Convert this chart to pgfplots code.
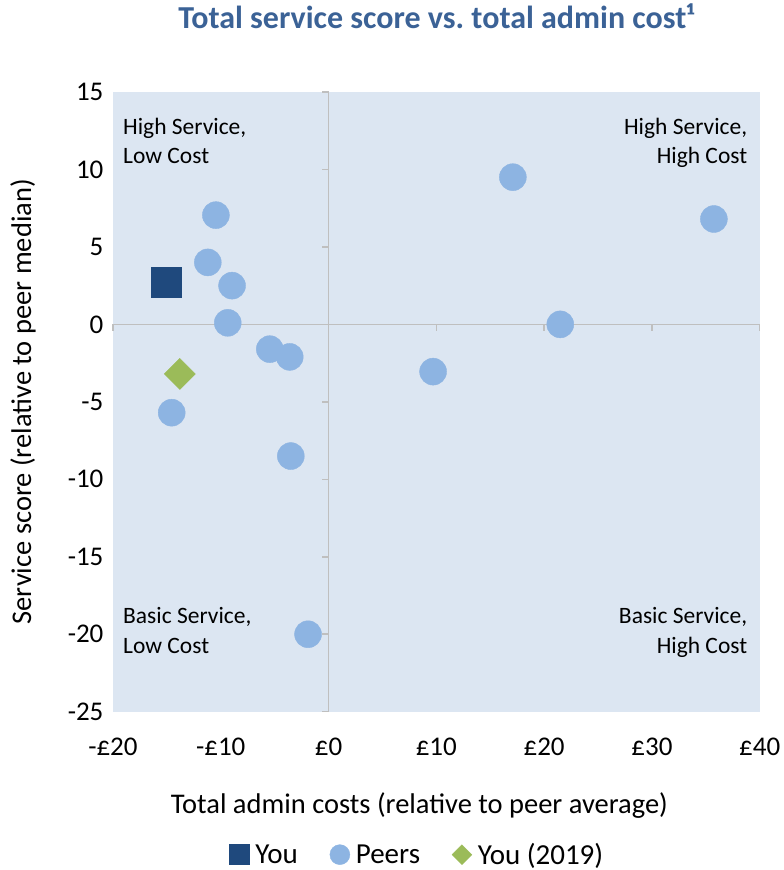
\documentclass[border=0pt]{standalone}
\usepackage{fontspec}
\setmainfont{Carlito}
\usepackage{pgfplots}
\pgfplotsset{compat=1.18}
\definecolor{bgblue}{RGB}{220,230,242}
\definecolor{you}{RGB}{31,73,125}
\definecolor{peer}{RGB}{141,180,226}
\definecolor{old}{RGB}{155,187,89}
\definecolor{titleblue}{RGB}{59,98,150}
\definecolor{axgray}{RGB}{191,191,191}
\begin{document}
\begin{tikzpicture}
\begin{axis}[
  scale only axis, width=647pt, height=620pt,
  xmin=-20, xmax=40, ymin=-25, ymax=15,
  axis line style={draw=none},
  axis background/.style={fill=bgblue},
  tick style={draw=none},
  clip=false,
  xtick={-20,-10,...,40},
  xticklabels={-£20,-£10,£0,£10,£20,£30,£40},
  ytick={-25,-20,...,15},
  yticklabels={-25,-20,-15,-10,-5,0,5,10,15},
  every tick label/.append style={font=\fontsize{27}{31}\selectfont},
  yticklabel style={xshift=-6pt},
  xticklabel style={anchor=base, yshift=-44pt},
  xlabel={Total admin costs (relative to peer average)},
  ylabel={Service score (relative to peer median)},
  label style={font=\fontsize{28.5}{33}\selectfont},
  xlabel style={at={(axis description cs:0.5,0)}, anchor=base, yshift=-102pt, xshift=-17pt},
  ylabel style={at={(axis description cs:0,0.5)}, anchor=center, xshift=0pt, yshift=90pt},
  title={Total service score vs.\ total admin cost¹},
  title style={at={(axis description cs:0.5,1)}, anchor=center, yshift=70pt,
    font=\bfseries\fontsize{32}{38}\selectfont, text=titleblue},
  legend style={at={(axis description cs:0.5,0)}, anchor=center, yshift=-143pt, xshift=-19pt,
    draw=none, fill=none, font=\fontsize{29}{34}\selectfont,
    legend columns=3,
    /tikz/every odd column/.append style={column sep=4pt},
    /tikz/every even column/.append style={column sep=30pt}},
]
\draw[axgray, line width=1.5pt] (axis cs:0,-25) -- (axis cs:0,15);
\draw[axgray, line width=1.5pt] (axis cs:-20,0) -- (axis cs:40,0);
\pgfplotsinvokeforeach{-25,-20,-15,-10,-5,0,5,10,15}{
  \draw[axgray, line width=1.5pt] (axis cs:0,#1) -- ([xshift=-7pt]axis cs:0,#1);
}
\pgfplotsinvokeforeach{-20,-10,0,10,20,30,40}{
  \draw[axgray, line width=1.5pt] (axis cs:#1,0) -- ([yshift=-7pt]axis cs:#1,0);
}
\addplot[only marks, mark=square*, mark size=15pt, color=you,
  legend image post style={mark size=10pt}]
  coordinates {(-15.1,2.7)};
\addlegendentry{You}
\addplot[only marks, mark=*, mark size=13.5pt, color=peer,
  legend image post style={mark size=10pt}]
  coordinates {
  (-10.45,7.05) (-11.2,4.0) (-8.95,2.5) (-9.35,0.1) (-5.45,-1.6)
  (-3.6,-2.1) (-14.55,-5.7) (-3.5,-8.5) (-1.9,-20.0) (9.7,-3.05)
  (17.1,9.5) (21.5,0.0) (35.75,6.8)};
\addlegendentry{Peers}
\addplot[only marks, mark=square*, mark size=11pt, mark options={rotate=45}, color=old,
  legend image post style={mark size=7pt}]
  coordinates {(-13.8,-3.2)};
\addlegendentry{You (2019)}
\node[anchor=north west, align=left, inner sep=0pt, font=\fontsize{23.5}{29.5}\selectfont]
  at (rel axis cs:0.0155,0.958) {High Service,\\Low Cost};
\node[anchor=north east, align=right, inner sep=0pt, font=\fontsize{23.5}{29.5}\selectfont]
  at (rel axis cs:0.981,0.958) {High Service,\\High Cost};
\node[anchor=north west, align=left, inner sep=0pt, font=\fontsize{23.5}{29.5}\selectfont]
  at (rel axis cs:0.0155,0.168) {Basic Service,\\Low Cost};
\node[anchor=north east, align=right, inner sep=0pt, font=\fontsize{23.5}{29.5}\selectfont]
  at (rel axis cs:0.981,0.168) {Basic Service,\\High Cost};
\end{axis}
\path (current axis.south west) ++(-113pt,-158pt) rectangle ++(783pt,870pt);
\end{tikzpicture}
\end{document}
